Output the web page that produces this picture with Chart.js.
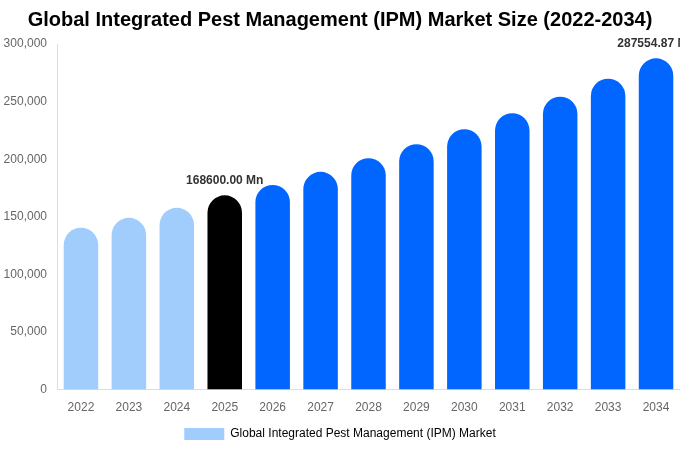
<!DOCTYPE html>
<html>
<head>
<meta charset="utf-8">
<script src="https://cdn.jsdelivr.net/npm/chart.js@4/dist/chart.umd.min.js"></script>
<style>
html,body{margin:0;padding:0;background:#fff;}
#wrap{width:680px;height:450px;}
</style>
</head>
<body>
<div id="wrap"><canvas id="c"></canvas></div>
<script>
const years = ['2022','2023','2024','2025','2026','2027','2028','2029','2030','2031','2032','2033','2034'];
const marketValues = [140500, 149100, 157800, 168600, 177700, 189000, 200900, 213000, 226000, 239900, 254300, 269900, 287554.87];
const labelledYears = ['2025','2034'];
const seriesName = 'Global Integrated Pest Management (IPM) Market';
const titleText = 'Global Integrated Pest Management (IPM) Market Size (2022-2034)';

const LIGHT = '#a0cdfc', BASE = '#000000', BLUE = '#0066ff';
const colors = years.map(y => +y < 2025 ? LIGHT : (+y === 2025 ? BASE : BLUE));

const valueLabels = {
  id: 'valueLabels',
  afterDatasetsDraw(chart) {
    const ctx = chart.ctx;
    const meta = chart.getDatasetMeta(0);
    ctx.save();
    ctx.font = 'bold 12px "Liberation Sans", Arial, sans-serif';
    ctx.fillStyle = '#333333';
    ctx.textAlign = 'center';
    ctx.textBaseline = 'bottom';
    meta.data.forEach((bar, i) => {
      if (labelledYears.includes(years[i])) {
        ctx.fillText(marketValues[i].toFixed(2) + ' Mn', bar.x, bar.y - 9);
      }
    });
    ctx.restore();
  }
};

Chart.defaults.font.family = '"Liberation Sans", Arial, sans-serif';
Chart.defaults.font.size = 12;
Chart.defaults.color = '#666666';

new Chart(document.getElementById('c'), {
  type: 'bar',
  data: {
    labels: years,
    datasets: [{
      label: seriesName,
      data: marketValues,
      backgroundColor: colors,
      borderRadius: 100,
      borderSkipped: 'start',
      barPercentage: 0.9,
      categoryPercentage: 0.8
    }]
  },
  options: {
    responsive: true,
    maintainAspectRatio: false,
    animation: false,
    layout: { padding: { left: 0, right: 0, top: 0, bottom: 0 } },
    plugins: {
      title: {
        display: true,
        text: titleText,
        color: '#000000',
        font: { size: 20, weight: 'bold' },
        padding: { top: 8, bottom: 12 }
      },
      legend: {
        position: 'bottom',
        labels: {
          boxWidth: 40,
          boxHeight: 12,
          padding: 7,
          color: '#666666',
          generateLabels: (chart) => [{
            text: seriesName,
            fillStyle: LIGHT,
            strokeStyle: LIGHT,
            lineWidth: 0,
            hidden: false,
            datasetIndex: 0
          }]
        }
      },
      tooltip: { enabled: false }
    },
    scales: {
      x: {
        afterFit: (axis) => { axis.height += 3; },
        grid: { display: false },
        border: { display: true, color: '#dddddd' },
        ticks: { color: '#666666', padding: 3 }
      },
      y: {
        min: 0,
        max: 300000,
        afterFit: (axis) => { axis.width = 57; },
        ticks: { stepSize: 50000, color: '#666666', padding: 2,
          callback: v => v.toLocaleString('en-US') },
        grid: { display: false },
        border: { display: true, color: '#dddddd' }
      }
    }
  },
  plugins: [valueLabels]
});
</script>
</body>
</html>
